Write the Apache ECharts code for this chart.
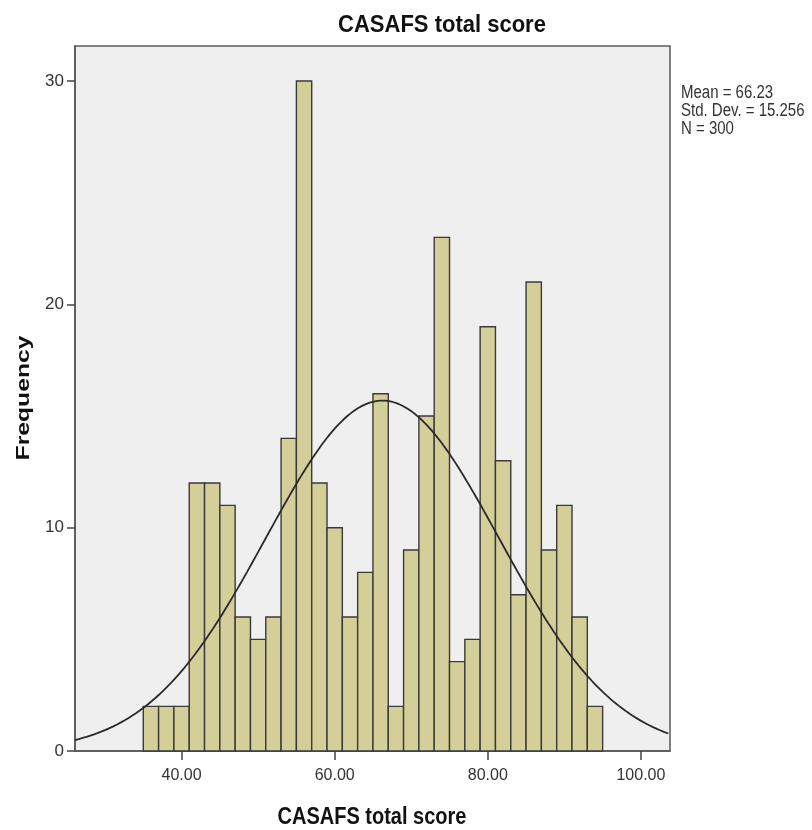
<!DOCTYPE html>
<html>
<head>
<meta charset="utf-8">
<script src="https://cdn.jsdelivr.net/npm/echarts@6/dist/echarts.min.js"></script>
<style>
html,body{margin:0;padding:0;background:#fff;}
#chart{width:812px;height:830px;}
</style>
</head>
<body>
<div id="chart"></div>
<script>
// ---- data ----
const binStarts = [35,37,39,41,43,45,47,49,51,53,55,57,59,61,63,65,67,69,71,73,75,77,79,81,83,85,87,89,91,93];
const binWidth = 2;
const frequencies = [2,2,2,12,12,11,6,5,6,14,30,12,10,6,8,16,2,9,15,23,4,5,19,13,7,21,9,11,6,2];
const xTickValues = [40,60,80,100];
const yTickValues = [0,10,20,30];
const statMean = 66.23;
const statSD = 15.256;
const statN = 300;
const titleText = 'CASAFS total score';
const xAxisTitle = 'CASAFS total score';
const yAxisTitle = 'Frequency';
const statLines = ['Mean = 66.23', 'Std. Dev. = 15.256', 'N = 300'];

const X_MIN = 26.08, X_MAX = 103.8, Y_MIN = 0, Y_MAX = 31.57;

const barData = binStarts.map((s, i) => [s, s + binWidth, frequencies[i]]);

// fitted normal curve defined by the displayed Mean / Std. Dev. / N
const curveData = [];
for (let x = X_MIN; x <= X_MAX + 1e-9; x += 0.25) {
  const z = (x - statMean) / statSD;
  curveData.push([x, statN * binWidth * Math.exp(-0.5 * z * z) / (statSD * Math.sqrt(2 * Math.PI))]);
}

const FONT = "'Liberation Sans', Arial, sans-serif";

const chart = echarts.init(document.getElementById('chart'));
chart.setOption({
  animation: false,
  backgroundColor: '#ffffff',
  grid: {
    left: 75, right: 142, top: 46, bottom: 79,
    show: true, backgroundColor: '#efefef', borderColor: '#5a5a5a', borderWidth: 1.5
  },
  xAxis: {
    type: 'value', min: X_MIN, max: X_MAX,
    axisLine: { show: true, onZero: false, lineStyle: { color: '#555', width: 1.5 } },
    axisTick: { show: true, customValues: xTickValues, length: 9, lineStyle: { color: '#444', width: 1.5 } },
    axisLabel: {
      customValues: xTickValues, margin: 17,
      formatter: v => v.toFixed(2),
      color: '#333', fontFamily: FONT, fontSize: 16
    },
    splitLine: { show: false }
  },
  yAxis: {
    type: 'value', min: Y_MIN, max: Y_MAX,
    axisLine: { show: true, lineStyle: { color: '#555', width: 1.5 } },
    axisTick: { show: true, customValues: yTickValues, length: 8, lineStyle: { color: '#444', width: 1.5 } },
    axisLabel: {
      customValues: yTickValues, margin: 11,
      color: '#333', fontFamily: FONT, fontSize: 17
    },
    splitLine: { show: false }
  },
  series: [
    {
      type: 'custom',
      data: barData,
      encode: { x: [0, 1], y: 2 },
      renderItem: function (params, api) {
        const p0 = api.coord([api.value(0), api.value(2)]);
        const p1 = api.coord([api.value(1), 0]);
        return {
          type: 'rect',
          shape: { x: p0[0], y: p0[1], width: p1[0] - p0[0], height: p1[1] - p0[1] },
          style: { fill: '#d4cf98', stroke: '#3a3a3a', lineWidth: 1.4 }
        };
      },
      z: 2
    },
    {
      type: 'line',
      data: curveData,
      showSymbol: false,
      smooth: false,
      lineStyle: { color: '#2a2a2a', width: 1.8 },
      z: 3
    }
  ],
  graphic: [
    { type: 'text', x: 442, y: 25, scaleY: 1.1,
      style: { text: titleText, align: 'center', verticalAlign: 'middle',
        font: "bold 22px " + FONT, fill: '#111' } },
    { type: 'text', x: 372, y: 818, scaleY: 1.15,
      style: { text: xAxisTitle, align: 'center', verticalAlign: 'middle',
        font: "bold 20px " + FONT, fill: '#111' } },
    { type: 'text', x: 24, y: 398, rotation: Math.PI / 2, scaleX: 1.3,
      style: { text: yAxisTitle, align: 'center', verticalAlign: 'middle',
        font: "bold 19px " + FONT, fill: '#111' } },
    { type: 'text', x: 681, y: 93, scaleY: 1.2,
      style: { text: statLines[0], align: 'left', verticalAlign: 'middle',
        font: "15px " + FONT, fill: '#333' } },
    { type: 'text', x: 681, y: 111, scaleY: 1.2,
      style: { text: statLines[1], align: 'left', verticalAlign: 'middle',
        font: "15px " + FONT, fill: '#333' } },
    { type: 'text', x: 681, y: 129, scaleY: 1.2,
      style: { text: statLines[2], align: 'left', verticalAlign: 'middle',
        font: "15px " + FONT, fill: '#333' } }
  ]
});
</script>
</body>
</html>
